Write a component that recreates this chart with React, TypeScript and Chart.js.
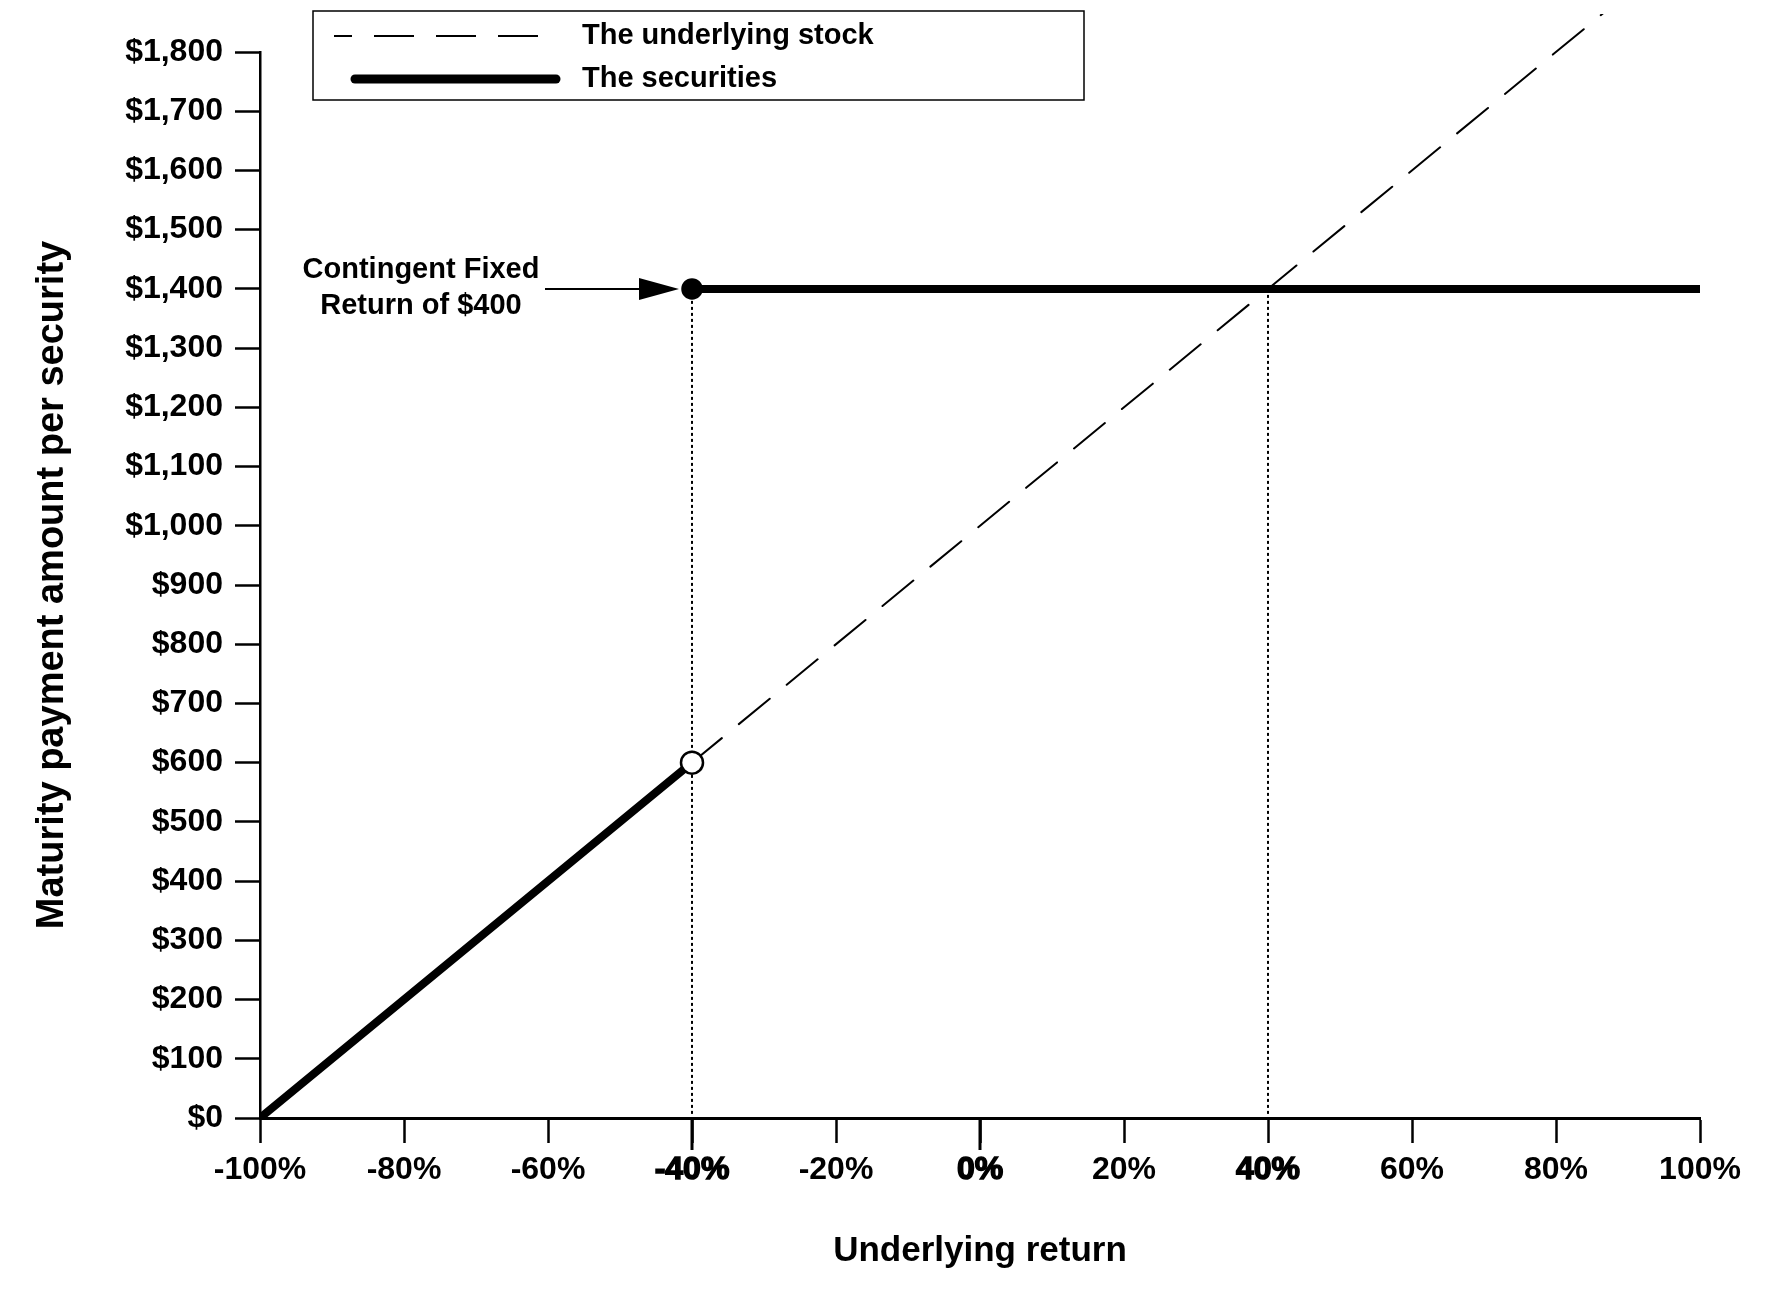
import { useEffect, useRef } from "react";
import { Chart, registerables } from "chart.js";
import type { Plugin } from "chart.js";

Chart.register(...registerables);

// axis ranges (underlying return in %, payment in $)
const returnMin = -100;
const returnMax = 100;
const returnStep = 20;
const paymentMin = 0;
const paymentMax = 1800;
const paymentStep = 100;

// the underlying stock: straight line through the whole range
const stockReturns = [-100, 100];
const stockPayments = [0, 2000];

// the securities: follows the stock below the barrier, fixed above it
const lowReturns = [-100, -40];
const lowPayments = [0, 600];
const highReturns = [-40, 100];
const highPayments = [1400, 1400];

// dotted drop lines
const guideReturns = [-40, 40];
const guidePayment = 1400;

const emphasizedTicks = [-40, 0, 40];
const legendLabels = ["The underlying stock", "The securities"];
const noteLines = ["Contingent Fixed", "Return of $400"];

const FONT = "'Liberation Sans', Arial, sans-serif";

const overlayPlugin: Plugin = {
  id: "overlay",
  afterDraw: (chart) => {
    const { ctx, chartArea } = chart;
    const xs = chart.scales.x;
    const ys = chart.scales.y;
    ctx.save();

    // legend box
    const bx = chartArea.left + 53;
    const by = 11;
    ctx.strokeStyle = "#000";
    ctx.lineWidth = 1.5;
    ctx.setLineDash([]);
    ctx.strokeRect(bx, by, 771, 89);

    ctx.font = `bold 29px ${FONT}`;
    ctx.fillStyle = "#000";
    ctx.textBaseline = "middle";
    ctx.textAlign = "left";

    // dashed sample
    ctx.lineWidth = 2;
    ctx.setLineDash([40, 22]);
    ctx.lineDashOffset = 22;
    ctx.beginPath();
    ctx.moveTo(bx + 21, by + 25);
    ctx.lineTo(bx + 247, by + 25);
    ctx.stroke();
    ctx.setLineDash([]);
    ctx.lineDashOffset = 0;
    ctx.fillText(legendLabels[0], bx + 269, by + 25);

    // thick sample
    ctx.lineWidth = 9;
    ctx.lineCap = "round";
    ctx.beginPath();
    ctx.moveTo(bx + 42, by + 68);
    ctx.lineTo(bx + 243, by + 68);
    ctx.stroke();
    ctx.lineCap = "butt";
    ctx.fillText(legendLabels[1], bx + 269, by + 68);

    // note with arrow pointing at the fixed return
    const tipX = xs.getPixelForValue(highReturns[0]) - 13;
    const tipY = ys.getPixelForValue(highPayments[0]);
    ctx.textAlign = "center";
    ctx.fillText(noteLines[0], tipX - 258, tipY - 19);
    ctx.fillText(noteLines[1], tipX - 258, tipY + 17);

    ctx.lineWidth = 2;
    ctx.beginPath();
    ctx.moveTo(tipX - 134, tipY);
    ctx.lineTo(tipX - 30, tipY);
    ctx.stroke();
    ctx.beginPath();
    ctx.moveTo(tipX, tipY);
    ctx.lineTo(tipX - 40, tipY - 11);
    ctx.lineTo(tipX - 40, tipY + 11);
    ctx.closePath();
    ctx.fill();

    // longer tick marks for the highlighted returns
    ctx.lineWidth = 3;
    [-40, 0].forEach((v) => {
      const px = xs.getPixelForValue(v);
      ctx.beginPath();
      ctx.moveTo(px, chartArea.bottom);
      ctx.lineTo(px, chartArea.bottom + 32);
      ctx.stroke();
    });

    ctx.restore();
  },
};

export default function App() {
  const ref = useRef<HTMLCanvasElement>(null);

  useEffect(() => {
    document.body.style.margin = "0";
    document.body.style.overflow = "hidden";
    if (!ref.current) return;

    const toPoints = (xs: number[], ys: number[]) => xs.map((x, i) => ({ x, y: ys[i] }));
    const securities = [
      ...toPoints(lowReturns, lowPayments),
      { x: lowReturns[1], y: null },
      ...toPoints(highReturns, highPayments),
    ];

    const chart = new Chart(ref.current, {
      type: "line",
      plugins: [overlayPlugin],
      data: {
        datasets: [
          {
            label: legendLabels[1],
            data: securities as any,
            borderColor: "#000",
            borderWidth: 8,
            borderCapStyle: "round",
            pointRadius: (c: any) => (c.dataIndex === 1 ? 11 : c.dataIndex === 3 ? 9.5 : 0),
            pointBackgroundColor: (c: any) => (c.dataIndex === 1 ? "#fff" : "#000"),
            pointBorderColor: "#000",
            pointBorderWidth: 2.5,
            order: 0,
          },
          {
            label: legendLabels[0],
            data: toPoints(stockReturns, stockPayments),
            borderColor: "#000",
            borderWidth: 2,
            borderDash: [40, 22],
            borderCapStyle: "round",
            pointRadius: 0,
            clip: { left: 0, top: 38, right: 0, bottom: 0 },
            order: 1,
          },
          ...guideReturns.map((r) => ({
            label: "guide",
            data: [
              { x: r, y: guidePayment },
              { x: r, y: paymentMin },
            ],
            borderColor: "#000",
            borderWidth: 2,
            borderDash: [3, 3],
            pointRadius: 0,
            order: 2,
          })),
        ],
      },
      options: {
        animation: false,
        responsive: true,
        maintainAspectRatio: false,
        layout: { padding: { top: 52, right: 74, left: 0, bottom: 0 } },
        plugins: {
          legend: { display: false },
          tooltip: { enabled: false },
        },
        scales: {
          x: {
            type: "linear",
            min: returnMin,
            max: returnMax,
            afterFit: (s: any) => {
              s.height = 182;
            },
            ticks: {
              stepSize: returnStep,
              autoSkip: false,
              maxRotation: 0,
              color: "#000",
              padding: 8,
              font: { family: FONT, size: 32, weight: "bold" },
              textStrokeColor: "#000",
              textStrokeWidth: (c: any) => (emphasizedTicks.includes(c.tick?.value) ? 1.5 : 0),
              callback: (v: any) => `${v}%`,
            },
            grid: {
              drawOnChartArea: false,
              drawTicks: true,
              tickLength: 25,
              tickColor: "#000",
              tickWidth: 2.5,
            },
            border: { color: "#000", width: 3 },
            title: {
              display: true,
              text: "Underlying return",
              color: "#000",
              font: { family: FONT, size: 35, weight: "bold" },
              padding: { top: 0, bottom: 28 },
            },
          },
          y: {
            min: paymentMin,
            max: paymentMax,
            afterFit: (s: any) => {
              s.width = 260;
            },
            ticks: {
              stepSize: paymentStep,
              color: "#000",
              padding: 12,
              font: { family: FONT, size: 32, weight: "bold" },
              callback: (v: any) => `$${Number(v).toLocaleString("en-US")}`,
            },
            grid: {
              drawOnChartArea: false,
              drawTicks: true,
              tickLength: 25,
              tickColor: "#000",
              tickWidth: 2.5,
            },
            border: { color: "#000", width: 2.5 },
            title: {
              display: true,
              text: "Maturity payment amount per security",
              color: "#000",
              font: { family: FONT, size: 38, weight: "bold" },
              padding: { top: 30, bottom: 0 },
            },
          },
        },
      },
    });

    return () => chart.destroy();
  }, []);

  return (
    <div style={{ width: 1774, height: 1300, background: "#fff" }}>
      <canvas ref={ref} />
    </div>
  );
}
